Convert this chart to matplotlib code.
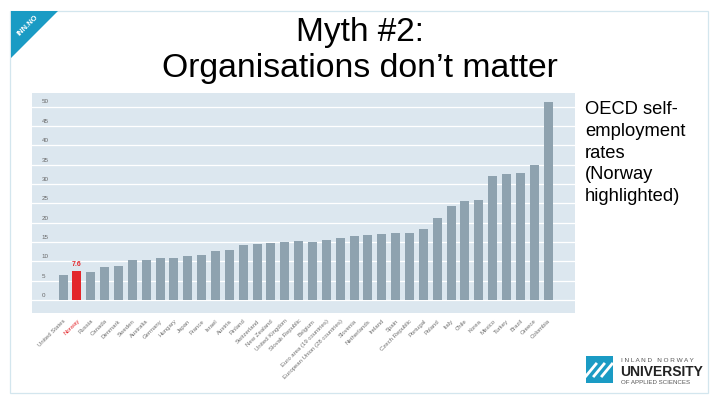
import numpy as np
import matplotlib
matplotlib.use("Agg")
import matplotlib.pyplot as plt
from matplotlib.patches import Polygon, Rectangle
from matplotlib.transforms import blended_transform_factory

plt.rcParams['font.family'] = ['Liberation Sans', 'DejaVu Sans']

countries = ["United States", "Norway", "Russia", "Canada", "Denmark", "Sweden",
             "Australia", "Germany", "Hungary", "Japan", "France", "Israel",
             "Austria", "Finland", "Switzerland", "New Zealand", "United Kingdom",
             "Slovak Republic", "Belgium", "Euro area (19 countries)",
             "European Union (28 countries)", "Slovenia", "Netherlands", "Ireland",
             "Spain", "Czech Republic", "Portugal", "Poland", "Italy", "Chile",
             "Korea", "Mexico", "Turkey", "Brazil", "Greece", "Colombia"]
rates = [6.5, 7.6, 7.3, 8.6, 8.9, 10.3, 10.4, 10.8, 10.9, 11.3, 11.8, 12.7,
         13.0, 14.3, 14.5, 14.8, 15.0, 15.2, 15.1, 15.6, 16.1, 16.5, 16.9, 17.1,
         17.3, 17.3, 18.4, 21.3, 24.4, 25.5, 25.8, 32.0, 32.6, 32.8, 34.9, 51.2]
highlight = "Norway"
yticks = [0, 5, 10, 15, 20, 25, 30, 35, 40, 45, 50]

W, H = 720, 405
fig = plt.figure(figsize=(7.2, 4.05), dpi=100)


def box(x0, y0, x1, y1):
    # pixel box (top-left origin) -> figure fraction rect
    return [x0 / W, 1 - y1 / H, (x1 - x0) / W, (y1 - y0) / H]


# slide frame
fig.patches.append(Rectangle((10 / W, 1 - 393 / H), 698 / W, 382 / H,
                             transform=fig.transFigure, facecolor='none',
                             edgecolor='#d3e6ee', lw=0.9, zorder=-1))

ax = fig.add_axes(box(32, 93, 575, 313))
ax.set_zorder(2)
ax.set_facecolor('#dce7ef')
x = np.arange(len(countries))
colors = ['#e3262b' if c == highlight else '#8ea2af' for c in countries]
ax.bar(x, rates, width=0.65, color=colors, zorder=3)
ax.set_xlim(-2.24, 36.94)
ax.set_ylim(-3.3, 53.5)
for t in yticks:
    ax.axhline(t, color='white', lw=0.9, zorder=1)
trans = blended_transform_factory(ax.transAxes, ax.transData)
for t in yticks:
    ax.text(0.018, t + 1.2, str(t), transform=trans, fontsize=4.5,
            color='#666666', va='center', ha='left')
ni = countries.index(highlight)
ax.text(ni, rates[ni] + 0.7, f"{rates[ni]}", ha='center', va='bottom',
        fontsize=5, color='#e3262b', fontweight='bold')
ax.set_yticks([])
ax.set_xticks(x)
ax.set_xticklabels(countries, rotation=45, ha='right', rotation_mode='anchor',
                   fontsize=4.3, color='#707070')
ax.get_xticklabels()[ni].set_color('#e3262b')
ax.tick_params(axis='x', length=0, pad=4)
for s in ax.spines.values():
    s.set_visible(False)

# title
fig.text(360 / W, 1 - 40.7 / H, "Myth #2:", ha='center', va='baseline', fontsize=24)
fig.text(360 / W, 1 - 77.3 / H, "Organisations don\u2019t matter", ha='center',
         va='baseline', fontsize=24.3)

# side note
fig.text(585 / W, 1 - 101 / H, "OECD self-\nemployment\nrates\n(Norway\nhighlighted)",
         ha='left', va='top', fontsize=13.2, linespacing=1.37)

# corner tag
fig.patches.append(Polygon([(11 / W, 1 - 11 / H), (58 / W, 1 - 11 / H),
                            (11 / W, 1 - 58 / H)], closed=True,
                           transform=fig.transFigure, facecolor='#1a9bc4',
                           edgecolor='none'))
fig.text(28 / W, 1 - 26 / H, "INN.NO", rotation=45, ha='center', va='center',
         fontsize=5.5, color='white', fontweight='bold')

# logo
fig.patches.append(Rectangle((586 / W, 1 - 383 / H), 27 / W, 27 / H,
                             transform=fig.transFigure, facecolor='#1a9bc4',
                             edgecolor='none'))
for k in range(3):
    off = 5 + 8 * k
    fig.lines.append(plt.Line2D([(586 + off - 5) / W, (586 + off + 5) / W],
                                [1 - (370 + 6) / H, 1 - (370 - 6) / H],
                                transform=fig.transFigure, color='white', lw=2))
fig.text(621 / W, 1 - 361 / H, "I N L A N D   N O R W A Y", fontsize=4.6,
         color='#555555', va='center', ha='left')
fig.text(620 / W, 1 - 372 / H, "UNIVERSITY", fontsize=10, color='#222222',
         fontweight='bold', va='center', ha='left')
fig.text(621 / W, 1 - 383 / H, "OF APPLIED SCIENCES", fontsize=4.4, color='#555555',
         va='center', ha='left')

fig.savefig("out.png", dpi=100)
